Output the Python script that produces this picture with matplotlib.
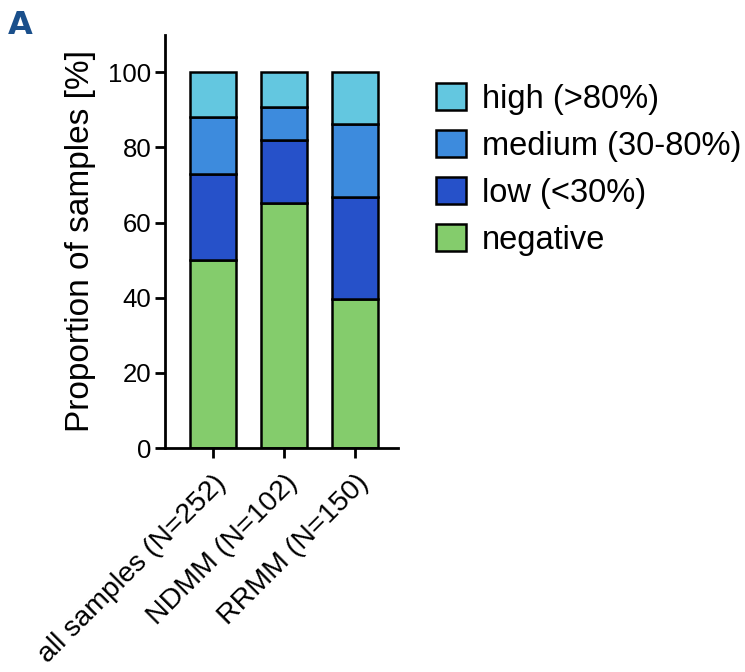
import matplotlib
matplotlib.use('Agg')
import matplotlib.pyplot as plt
import numpy as np

groups = ["all samples (N=252)", "NDMM (N=102)", "RRMM (N=150)"]
categories = ["negative", "low (<30%)", "medium (30-80%)", "high (>80%)"]
negative = [50.0, 65.3, 39.6]
low = [23.0, 16.7, 27.3]
medium = [15.1, 8.8, 19.3]
high = [11.9, 9.2, 13.8]
colors = ["#84CC6C", "#2651C9", "#3D8BDD", "#63C7E0"]

plt.rcParams['font.family'] = ['Liberation Sans', 'DejaVu Sans']

fig = plt.figure(figsize=(7.45, 6.72), dpi=100)
ax = fig.add_axes([0.2215, 0.3333, 0.3125, 0.615])

x = np.arange(len(groups))
bottom = np.zeros(len(groups))
bars = []
for vals, col, name in zip([negative, low, medium, high], colors, categories):
    b = ax.bar(x, vals, width=0.64, bottom=bottom, color=col,
               edgecolor="black", linewidth=1.8, label=name)
    bars.append(b)
    bottom += np.array(vals)

ax.set_xlim(-0.67, 2.6)
ax.set_ylim(0, 110)
ax.set_yticks([0, 20, 40, 60, 80, 100])
ax.set_xticks(x)
ax.set_xticklabels(groups, rotation=45, ha='right', rotation_mode='anchor')
ax.tick_params(axis='both', width=2, length=7, direction='out')
ax.tick_params(axis='y', labelsize=18.5, pad=3)
ax.tick_params(axis='x', labelsize=20.5, pad=9)
ax.set_ylabel("Proportion of samples [%]", fontsize=24, labelpad=9)

for side in ['top', 'right']:
    ax.spines[side].set_visible(False)
for side in ['left', 'bottom']:
    ax.spines[side].set_linewidth(2)

handles = bars[::-1]
labels = categories[::-1]
fig.legend(handles, labels, loc='upper left', bbox_to_anchor=(0.555, 0.91),
           frameon=False, fontsize=23.5, handlelength=0.9, handleheight=0.9,
           handletextpad=0.5, labelspacing=0.46, borderaxespad=0.3)

fig.text(0.01, 0.985, "A", fontsize=23, fontweight='bold', color="#1A4F8B",
         family='DejaVu Sans', va='top', ha='left')

fig.savefig("out.png", dpi=100)
